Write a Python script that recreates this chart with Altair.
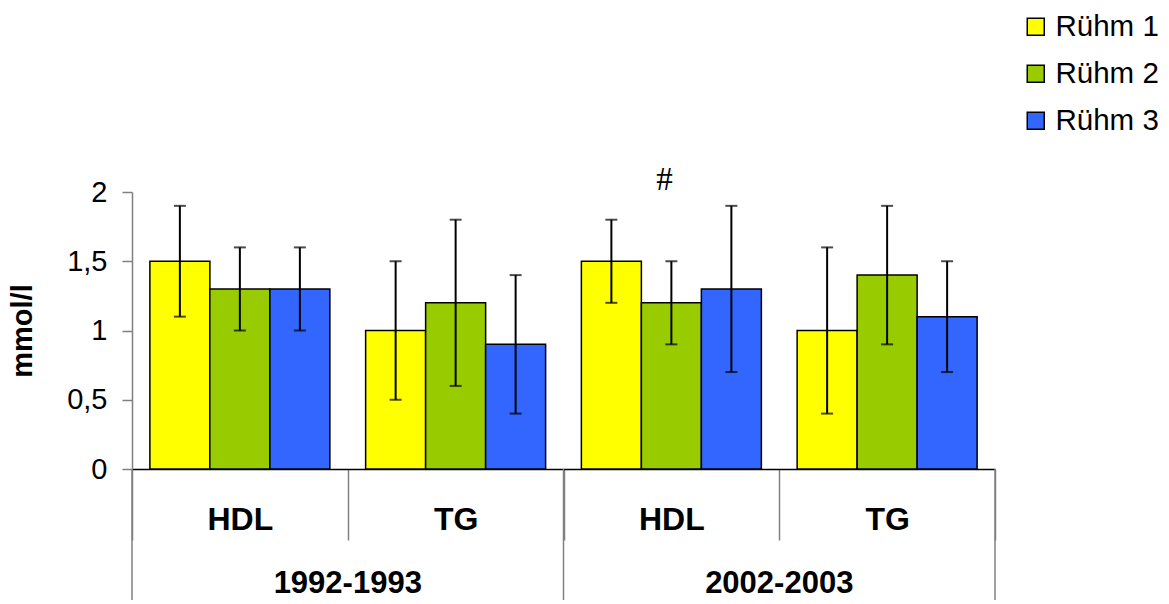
import altair as alt
import pandas as pd

# ---- data ----
years = ["1992-1993", "1992-1993", "2002-2003", "2002-2003"]
markers = ["HDL", "TG", "HDL", "TG"]
series = ["Rühm 1", "Rühm 2", "Rühm 3"]
colors = ["#FFFF00", "#99CC00", "#3366FF"]
means = [[1.5, 1.3, 1.3], [1.0, 1.2, 0.9], [1.5, 1.2, 1.3], [1.0, 1.4, 1.1]]
lows = [[1.1, 1.0, 1.0], [0.5, 0.6, 0.4], [1.2, 0.9, 0.7], [0.4, 0.9, 0.7]]
highs = [[1.9, 1.6, 1.6], [1.5, 1.8, 1.4], [1.8, 1.5, 1.9], [1.6, 1.9, 1.5]]
y_ticks = [0, 0.5, 1, 1.5, 2]
y_title = "mmol/l"
note_text = "#"
note_group = 2

groups = [f"{y} {m}" for y, m in zip(years, markers)]

rows = []
for gi, g in enumerate(groups):
    for si, s in enumerate(series):
        rows.append({"grp": g, "series": s, "value": means[gi][si],
                     "lo": lows[gi][si], "hi": highs[gi][si]})
df = pd.DataFrame(rows)

FONT = "Liberation Sans"

x_scale = alt.Scale(domain=groups, paddingInner=0, paddingOuter=0)
x_axis = alt.Axis(
    title=None, labelExpr="split(datum.label, ' ')[1]", labelAngle=0,
    labelFont=FONT, labelFontSize=32, labelFontWeight="bold", labelColor="black",
    labelBaseline="middle", labelPadding=-21,
    domainColor="black", domainWidth=1.5,
    tickBand="extent", tickSize=71, tickColor="#808080", tickWidth=1.5,
)


def X(bp=None):
    if bp is None:
        return alt.X("grp:N", scale=x_scale, axis=x_axis)
    return alt.X("grp:N", scale=x_scale, axis=x_axis, bandPosition=bp)


# bars 60px inside a 216px group, 18px margin each side
xoff = alt.XOffset("series:N", sort=series,
                   scale=alt.Scale(paddingInner=0, paddingOuter=0.298))
y_scale = alt.Scale(domain=[0, 2], nice=False)
y_axis = alt.Axis(
    values=y_ticks, format="~g", labelExpr="replace(datum.label, '.', ',')",
    labelFont=FONT, labelFontSize=29, labelColor="black", labelPadding=15,
    tickSize=10, tickColor="#808080", tickWidth=1.5,
    domainColor="#808080", domainWidth=1.5, grid=False,
    title=y_title, titleFont=FONT, titleFontSize=29, titleFontWeight="bold",
    titleColor="black", titleX=-110, titleY=138.5, titleAngle=270,
    titleAlign="center", titleBaseline="middle",
)

base = alt.Chart(df)

bars = base.mark_bar(stroke="black", strokeWidth=1.5).encode(
    x=X(), xOffset=xoff,
    y=alt.Y("value:Q", scale=y_scale, axis=y_axis),
    color=alt.Color("series:N", scale=alt.Scale(domain=series, range=colors),
                    legend=alt.Legend(
                        title=None, orient="none", legendX=889, legendY=-180,
                        direction="vertical", symbolType="square", symbolSize=289,
                        symbolStrokeColor="black", symbolStrokeWidth=1.5,
                        symbolOpacity=1, labelFont=FONT, labelFontSize=29.5,
                        labelColor="black", labelOffset=5, rowPadding=16,
                        padding=0)),
)

err = base.mark_rule(color="black", strokeWidth=2).encode(
    x=X(), xOffset=xoff,
    y=alt.Y("lo:Q", scale=y_scale), y2="hi:Q",
)
cap_lo = base.mark_tick(color="black", size=12, thickness=2).encode(
    x=X(), xOffset=xoff, y=alt.Y("lo:Q", scale=y_scale),
)
cap_hi = base.mark_tick(color="black", size=12, thickness=2).encode(
    x=X(), xOffset=xoff, y=alt.Y("hi:Q", scale=y_scale),
)

# year-level separators and labels
first_of_year = [g for i, g in enumerate(groups) if i == 0 or years[i] != years[i - 1]]
last_group = [groups[-1]]
year_label_groups = [g for i, g in enumerate(groups) if markers[i] == "HDL"]

sep_left = alt.Chart(pd.DataFrame({"grp": first_of_year})).mark_rule(
    color="#808080", strokeWidth=1.5).encode(
    x=X(0), y=alt.value(277), y2=alt.value(412))
sep_right = alt.Chart(pd.DataFrame({"grp": last_group})).mark_rule(
    color="#808080", strokeWidth=1.5).encode(
    x=X(1), y=alt.value(277), y2=alt.value(412))

year_df = pd.DataFrame({"grp": year_label_groups,
                        "year": [years[i] for i, m in enumerate(markers) if m == "HDL"]})
year_text = alt.Chart(year_df).mark_text(
    font=FONT, fontSize=31, fontWeight="bold", color="black",
    align="center", baseline="middle").encode(
    x=X(1), y=alt.value(392), text="year:N")

note = alt.Chart(pd.DataFrame({"grp": [groups[note_group]], "t": [note_text]})).mark_text(
    font="Liberation Serif", fontSize=33, color="black",
    align="center", baseline="middle", dx=-7).encode(
    x=X(), y=alt.value(-12), text="t:N")

chart = alt.layer(bars, err, cap_lo, cap_hi, sep_left, sep_right, year_text, note).properties(
    width=863, height=277,
    autosize=alt.AutoSizeParams(type="none"),
    padding={"left": 124, "top": 184, "right": 166, "bottom": 131},
).configure_view(stroke="transparent")

chart.save("out.html", embed_options={"renderer": "svg", "actions": False})
